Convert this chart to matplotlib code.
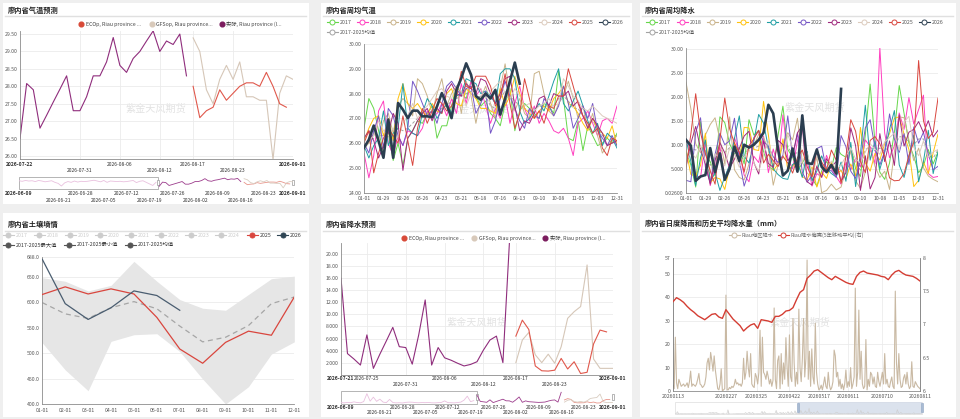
import matplotlib
matplotlib.use('Agg')
import matplotlib.pyplot as plt
from matplotlib.patches import Rectangle
from matplotlib.lines import Line2D
import numpy as np
import pandas as pd

plt.rcParams['font.family'] = ['Noto Sans CJK SC', 'DejaVu Sans']
plt.rcParams['axes.unicode_minus'] = False

# ---------------- 廖内省气温预测 (daily from 2026-07-22) ----------------
temp_actual = [26.5, 28.08, 27.9, 26.8, 27.17, 27.55, 27.92, 28.3, 27.3, 27.3,
               27.7, 28.3, 28.3, 28.7, 29.4, 28.6, 28.4, 28.8, 29.0, 29.3,
               29.59, 29.0, 29.3, 29.2, 29.5, 28.3]
temp_ec = [28.0, 27.1, 27.3, 27.4, 27.9, 27.6, 27.8, 28.0, 28.1, 28.1,
           28.0, 28.4, 28.0, 27.5, 27.4]
temp_gfs = [29.39, 29.0, 27.9, 27.5, 28.2, 28.6, 28.2, 28.7, 27.7, 27.7,
            27.6, 27.6, 25.9, 27.8, 28.3, 28.2]
# slider history 2026-06-09 .. 2026-07-21
temp_hist = [28.6, 28.4, 28.7, 28.5, 28.6, 28.3, 28.7, 28.5, 28.2, 28.4,
             28.6, 28.0, 27.6, 26.6, 27.8, 28.3, 28.0, 28.5, 28.1, 28.4,
             28.3, 28.4, 28.6, 28.8, 28.5, 28.2, 28.7, 28.0, 28.5, 28.4,
             28.3, 28.4, 28.2, 28.3, 28.5, 28.7, 27.9, 28.4, 28.6, 28.0,
             27.4, 26.8, 28.0]
temp_xlabels = ['2026-07-22', '2026-07-31', '2026-08-06', '2026-08-12',
                '2026-08-17', '2026-08-23', '2026-09-01']

# ---------------- 廖内省降水预测 (daily from 2026-07-21) ----------------
rain_actual = [16.0, 3.5, 2.6, 1.6, 6.6, 1.05, 3.4, 5.6, 7.85, 4.65,
               4.5, 1.75, 6.6, 12.4, 1.6, 4.5, 2.8, 2.4, 1.9, 1.45,
               1.7, 2.15, 4.1, 5.75, 6.4, 2.0, 21.8]
rain_ec = [6.4, 9.05, 7.5, 1.45, 0.65, 0.6, 0.75, 2.7, 0.95, 2.15,
           0.2, 0.4, 5.1, 7.4, 7.1]
rain_gfs = [2.0, 5.75, 7.0, 3.3, 2.0, 3.4, 1.9, 4.65, 9.35, 10.45,
            11.3, 18.2, 2.6, 1.05, 1.05, 1.05]
# slider history 2026-06-09 .. 2026-07-20
rain_hist = [1.0, 0.5, 1.5, 0.8, 2.5, 1.2, 0.6, 3.0, 19.0, 4.0,
             12.0, 3.5, 8.0, 2.0, 1.0, 7.5, 1.2, 0.5, 0.8, 0.3,
             1.5, 2.0, 1.8, 1.0, 0.7, 1.2, 0.9, 1.4, 0.6, 0.5,
             1.0, 1.3, 4.5, 1.0, 0.8, 0.5, 1.2, 2.0, 6.0, 14.0,
             3.0, 5.0]
rain_xlabels = ['2026-07-21', '2026-07-25', '2026-07-31', '2026-08-06',
                '2026-08-12', '2026-08-17', '2026-08-23', '2026-09-01']

slider_labels = ['2026-06-09', '2026-06-21', '2026-06-28', '2026-07-05',
                 '2026-07-12', '2026-07-19', '2026-07-26', '2026-08-02',
                 '2026-08-09', '2026-08-16', '2026-08-23', '2026-09-01']

# ---------------- 周均气温 (weekly) ----------------
week_labels = ['01-01', '01-29', '02-26', '03-26', '04-23', '05-21', '06-18',
               '07-16', '08-13', '09-10', '10-08', '11-05', '12-03', '12-31']
years = ['2017', '2018', '2019', '2020', '2021', '2022', '2023', '2024', '2025', '2026']

wt2017 = [26.6, 27.8, 27.4, 26.5, 25.6, 26.4, 25.3, 26.0, 25.1, 26.2,
          26.5, 26.9, 26.8, 27.2, 27.5, 26.2, 26.7, 26.7, 27.5, 28.3,
          28.0, 27.8, 28.5, 27.9, 27.5, 27.7, 27.2, 27.0, 26.7, 27.6,
          28.2, 26.5, 27.3, 27.6, 27.4, 27.2, 27.0, 27.6, 27.5, 27.2,
          28.9, 27.8, 26.2, 26.1, 26.9, 25.7, 26.7, 26.3, 25.9, 26.0, 26.2, 26.0, 26.4]
wt2018 = [25.6, 24.6, 25.5, 27.3, 27.7, 26.0, 25.5, 26.3, 25.9, 26.5,
          26.4, 26.3, 26.6, 27.3, 27.0, 27.2, 27.6, 27.1, 27.8, 27.2,
          28.4, 27.6, 28.5, 27.9, 28.2, 27.5, 26.8, 27.4, 27.0, 27.9,
          26.8, 27.6, 28.3, 27.4, 26.9, 27.5, 26.8, 27.2, 26.9, 26.5,
          26.4, 26.6, 26.2, 25.5, 26.8, 27.0, 27.3, 26.8, 26.3, 26.9, 27.0, 26.8, 27.5]
wt2019 = [25.8, 26.0, 26.4, 26.1, 26.9, 27.2, 26.4, 27.5, 27.8, 27.6,
          27.1, 28.6, 28.4, 27.9, 27.2, 28.0, 28.6, 27.5, 28.0, 28.3,
          27.2, 28.5, 27.9, 26.8, 27.8, 28.3, 27.6, 27.0, 28.2, 29.2,
          28.0, 27.3, 27.8, 27.2, 27.0, 28.8, 28.9, 28.0, 27.3, 27.1,
          27.6, 27.9, 28.5, 27.8, 27.0, 27.5, 26.6, 27.2, 26.3, 25.6, 25.9, 26.1, 26.3]
wt2020 = [26.1, 26.6, 27.0, 27.1, 26.3, 27.0, 26.1, 27.8, 28.4, 27.6,
          27.4, 27.6, 27.3, 27.1, 27.6, 27.3, 27.2, 28.0, 28.2, 27.6,
          27.5, 28.2, 28.0, 27.8, 27.4, 27.4, 27.3, 27.2, 28.2, 27.5,
          27.9, 28.7, 28.0, 27.4, 27.2, 27.0, 27.3, 27.5, 27.3, 27.8,
          28.0, 28.3, 27.6, 27.5, 27.2, 26.8, 26.5, 27.0, 26.6, 26.4, 26.2, 26.7, 25.9]
wt2021 = [25.9, 25.4, 25.9, 26.2, 27.3, 25.9, 26.4, 26.6, 28.4, 26.6,
          26.4, 26.3, 27.2, 27.8, 27.5, 27.0, 27.3, 27.6, 27.2, 27.9,
          28.0, 28.6, 28.5, 28.4, 28.0, 28.1, 27.9, 27.6, 28.8, 29.0,
          29.0, 28.6, 27.3, 26.8, 27.0, 27.3, 27.6, 27.3, 27.9, 28.5,
          29.0, 27.6, 27.3, 27.7, 28.1, 27.5, 26.9, 26.4, 26.8, 25.9, 26.4, 26.2, 25.8]
wt2022 = [26.0, 25.6, 26.5, 27.1, 25.8, 27.4, 27.1, 26.3, 25.9, 26.6,
          28.5, 28.1, 27.6, 27.1, 27.3, 26.8, 27.6, 28.3, 28.5, 28.2,
          27.9, 28.2, 28.3, 27.2, 27.6, 28.1, 26.4, 26.9, 27.8, 28.5,
          27.9, 27.4, 26.9, 26.6, 27.4, 27.1, 27.0, 27.8, 27.5, 27.1,
          27.5, 28.3, 27.6, 26.6, 27.0, 27.5, 27.0, 27.6, 26.5, 26.2, 25.9, 26.3, 25.9]
wt2023 = [26.2, 26.5, 26.1, 25.4, 25.9, 26.4, 27.2, 26.8, 24.9, 26.2,
          26.5, 26.9, 27.2, 27.4, 26.9, 27.4, 27.2, 28.1, 28.4, 28.0,
          27.9, 28.4, 28.2, 28.0, 28.6, 28.5, 28.0, 27.6, 28.0, 28.6,
          28.7, 27.5, 26.5, 26.9, 26.8, 27.2, 27.8, 27.9, 27.5, 28.0,
          27.9, 27.9, 28.1, 27.5, 27.7, 27.1, 26.6, 27.0, 26.7, 26.4, 25.9, 26.0, 26.1]
wt2024 = [25.7, 26.1, 26.3, 26.9, 26.5, 26.3, 26.6, 26.2, 26.8, 27.1,
          27.6, 27.0, 27.3, 27.5, 27.8, 28.1, 28.2, 27.9, 27.8, 28.3,
          28.1, 27.5, 28.0, 28.3, 28.2, 27.8, 28.1, 28.3, 28.5, 28.0,
          27.8, 28.2, 27.9, 27.5, 27.6, 27.3, 27.5, 27.6, 27.8, 27.5,
          27.6, 28.6, 28.3, 27.9, 27.7, 27.4, 27.3, 27.5, 27.3, 27.1, 27.0, 26.9, 26.8]
wt2025 = [26.0, 26.5, 24.8, 25.6, 26.2, 26.6, 26.3, 26.0, 27.1, 26.1,
          25.1, 26.6, 27.4, 26.8, 27.3, 27.8, 27.6, 27.3, 27.5, 27.9,
          28.9, 28.3, 28.2, 28.7, 28.7, 28.7, 28.3, 27.5, 27.8, 28.8,
          27.6, 26.6, 27.2, 28.6, 27.8, 27.0, 27.3, 26.8, 27.5, 27.4,
          27.9, 27.9, 29.0, 28.3, 27.6, 27.1, 26.8, 26.4, 26.6, 25.8, 25.5, 26.2, 26.1]
wt2026 = [25.81, 26.14, 26.71, 26.08, 25.41, 26.95, 25.41, 27.62, 27.35, 27.01,
          27.31, 27.31, 27.08, 27.08, 27.05, 27.48, 28.02, 27.55, 27.01, 28.15,
          28.62, 29.22, 28.76, 27.9, 27.75, 28.0, 27.8, 28.15, 27.15, 27.8,
          28.5, 29.25, 28.4]
wt_mean = [25.9, 26.1, 26.2, 26.3, 26.3, 26.5, 26.3, 26.6, 26.5, 26.6,
           26.8, 27.0, 27.1, 27.2, 27.3, 27.2, 27.4, 27.5, 27.7, 27.8,
           27.9, 28.0, 28.1, 27.8, 27.9, 27.9, 27.5, 27.4, 27.8, 28.1,
           27.9, 27.7, 27.5, 27.4, 27.3, 27.4, 27.5, 27.5, 27.5, 27.5,
           27.8, 27.9, 27.7, 27.4, 27.4, 27.1, 26.8, 26.9, 26.6, 26.3, 26.2, 26.3, 26.3]

# ---------------- 周均降水 (weekly) ----------------
wr2017 = [8.6, 5.8, 1.2, 14.8, 8.0, 6.5, 3.5, 15.8, 14.6, 10.2,
          8.0, 9.5, 6.0, 15.2, 12.0, 13.0, 8.6, 5.5, 4.8, 12.0,
          18.0, 9.0, 7.4, 4.5, 6.2, 8.0, 3.0, 1.4, 4.6, 6.5,
          5.0, 9.4, 8.0, 7.4, 9.6, 5.0, 3.4, 12.0, 22.6, 10.4,
          4.3, 2.8, 6.2, 12.6, 22.3, 16.5, 10.3, 7.6, 4.2, 5.6, 9.0, 6.0, 8.5]
wr2018 = [11.3, 8.5, 3.6, 3.2, 10.6, 1.5, 5.2, 9.6, 3.0, 5.8,
          11.5, 8.4, 3.7, 2.3, 7.6, 6.3, 11.8, 4.2, 9.1, 5.5,
          16.2, 7.3, 5.0, 10.8, 14.2, 6.7, 1.4, 4.0, 3.3, 7.8,
          5.1, 3.4, 1.8, 6.3, 4.8, 7.2, 5.4, 11.0, 9.6, 6.0,
          30.2, 12.4, 7.3, 9.8, 16.6, 13.2, 19.8, 14.3, 17.3, 20.3, 4.0, 3.2, 3.4]
wr2019 = [23.0, 17.5, 10.2, 8.3, 12.0, 14.2, 15.6, 11.0, 6.0, 15.8,
          4.8, 3.2, 2.7, 6.0, 9.8, 12.2, 11.5, 9.0, 1.6, 5.8,
          10.2, 12.5, 11.0, 15.5, 6.4, 4.1, 3.2, 7.5, 0.026, 0.5,
          1.8, 0.6, 1.2, 4.9, 8.8, 2.5, 0.9, 4.3, 9.0, 5.5,
          3.2, 4.5, 0.7, 8.5, 15.8, 15.6, 11.0, 6.7, 9.3, 5.2, 3.5, 2.8, 2.3]
wr2020 = [9.0, 3.8, 3.5, 5.7, 12.4, 2.1, 3.2, 2.9, 0.7, 5.4,
          10.5, 6.3, 13.6, 13.5, 9.0, 8.8, 19.0, 12.0, 4.6, 6.0,
          11.2, 4.8, 5.6, 6.6, 3.4, 2.7, 5.4, 1.2, 4.3, 3.0,
          6.3, 4.1, 4.6, 2.9, 6.0, 3.5, 13.6, 6.2, 4.5, 8.2,
          6.8, 10.3, 12.3, 15.5, 15.8, 12.2, 9.0, 1.3, 2.6, 6.4, 4.0, 8.3, 12.2]
wr2021 = [11.2, 6.5, 1.5, 7.3, 11.0, 2.3, 4.2, 0.5, 3.3, 5.8,
          11.3, 16.0, 7.6, 6.2, 10.7, 16.3, 14.5, 9.4, 5.0, 3.8,
          3.0, 2.8, 5.9, 6.4, 3.2, 8.6, 2.5, 4.5, 7.7, 5.0,
          4.0, 3.3, 6.4, 2.4, 10.5, 1.3, 8.2, 18.2, 6.8, 10.8,
          4.9, 8.4, 13.2, 17.1, 5.8, 3.2, 7.5, 12.0, 2.3, 6.5, 13.0, 4.0, 8.4]
wr2022 = [2.6, 2.3, 12.6, 15.6, 5.4, 2.1, 8.0, 12.4, 10.0, 10.8,
          15.5, 6.8, 1.4, 4.5, 11.5, 12.9, 10.7, 9.6, 7.5, 6.3,
          7.8, 16.0, 7.4, 12.4, 4.3, 2.2, 3.6, 9.2, 9.7, 4.6,
          4.6, 3.2, 11.9, 9.6, 4.5, 3.0, 6.8, 13.5, 15.2, 9.3,
          5.8, 8.6, 16.4, 11.2, 8.4, 12.3, 5.9, 13.7, 10.3, 12.6, 8.0, 4.8, 5.5]
wr2023 = [5.5, 10.3, 13.8, 9.2, 6.0, 1.8, 6.7, 10.4, 8.3, 5.1,
          7.0, 9.2, 11.8, 12.8, 6.3, 3.9, 10.8, 6.1, 5.3, 10.9,
          10.0, 6.7, 7.8, 12.5, 13.9, 2.3, 1.6, 5.5, 3.2, 7.1,
          5.4, 6.5, 2.4, 4.2, 13.5, 9.8, 0.5, 7.7, 0.8, 3.2,
          12.3, 6.5, 10.8, 5.7, 16.2, 9.7, 12.6, 13.2, 14.8, 12.5, 15.0, 11.6, 13.0]
wr2024 = [6.4, 8.5, 7.2, 9.8, 6.5, 4.4, 8.1, 7.2, 5.6, 9.3,
          8.0, 5.3, 7.4, 9.1, 6.2, 4.5, 7.9, 10.8, 6.4, 5.8,
          7.2, 12.1, 9.4, 5.3, 6.6, 8.3, 4.2, 7.5, 6.1, 5.0,
          6.6, 4.8, 5.8, 7.6, 9.4, 7.0, 6.2, 8.5, 10.2, 9.1,
          8.0, 10.6, 11.5, 12.4, 8.8, 14.7, 15.9, 9.5, 7.7, 10.8, 7.3, 8.5, 9.0]
wr2025 = [5.0, 12.2, 20.6, 12.5, 8.2, 4.5, 1.8, 11.0, 19.7, 13.3,
          10.3, 8.4, 4.3, 9.8, 11.2, 13.0, 6.2, 8.0, 6.7, 5.5,
          7.6, 6.2, 4.1, 7.3, 8.9, 5.4, 3.3, 9.0, 6.4, 4.8,
          8.9, 6.8, 2.0, 7.5, 15.2, 12.8, 6.5, 4.2, 10.9, 11.7,
          10.2, 7.6, 3.1, 2.5, 2.6, 4.0, 7.8, 10.5, 27.5, 15.0, 11.3, 12.6, 19.7]
wr2026 = [11.0, 9.8, 2.5, 3.4, 3.7, 9.3, 4.3, 8.2, 2.7, 5.0,
          9.6, 6.6, 10.0, 9.4, 10.0, 11.0, 12.5, 18.3, 16.5, 9.0,
          3.6, 4.6, 9.2, 4.4, 16.1, 6.2, 6.0, 9.0, 5.4, 4.3,
          5.8, 4.0, 21.6]
wr_mean = [10.2, 9.2, 8.9, 9.7, 8.8, 5.7, 6.9, 8.9, 8.4, 9.4,
           9.7, 8.7, 7.3, 9.8, 9.3, 9.7, 10.7, 9.0, 6.3, 6.6,
           10.0, 9.7, 7.8, 8.4, 8.7, 5.9, 4.3, 5.6, 5.7, 5.3,
           5.3, 5.3, 4.6, 5.6, 8.7, 6.3, 4.7, 9.0, 9.5, 8.7,
           9.3, 8.7, 9.7, 9.9, 11.6, 11.8, 10.6, 10.0, 11.2, 11.2, 8.4, 7.2, 8.9]

# ---------------- 土壤墒情 (monthly) ----------------
months = ['01-01', '02-01', '03-01', '04-01', '05-01', '06-01',
          '07-01', '08-01', '09-01', '10-01', '11-01', '12-01']
soil_2025 = [615, 630, 616, 626, 616, 570, 508, 480, 521, 543, 535, 610]
soil_2026 = [684, 597, 566, 589, 622, 613, 584]
soil_max = [648, 641, 622, 633, 680, 641, 605, 588, 584, 615, 646, 651]
soil_min = [520, 467, 426, 523, 536, 538, 503, 449, 400, 434, 498, 522]
soil_mean = [599, 577, 568, 589, 601, 587, 553, 522, 531, 554, 597, 610]

# ---------------- 日度降雨 (daily from 2026-01-13) ----------------
daily_rain = [2.5, 1.0, 23.0, 3.5, 1.0, 5.0, 3.5, 2.0, 2.5, 3.0,
              2.0, 2.5, 3.5, 1.5, 4.0, 8.5, 2.0, 3.0, 2.5, 2.0,
              3.0, 5.0, 7.5, 3.0, 2.5, 1.5, 2.0, 3.0, 6.0, 12.0,
              14.0, 9.0, 16.5, 13.0, 8.5, 15.0, 9.0, 5.0, 1.0, 0.5,
              3.0, 9.5, 0.0, 0.5, 1.0, 41.0, 0.5, 0.5, 1.5, 1.0,
              2.0, 1.5, 2.5, 5.0, 3.0, 3.5, 2.5, 3.0, 2.0, 3.5,
              14.0, 5.0, 8.0, 17.0, 10.0, 6.0, 16.0, 3.0, 2.0, 1.5,
              7.5, 6.0, 3.0, 8.0, 26.0, 2.0, 23.0, 8.0, 7.0, 5.0,
              8.5, 6.0, 3.0, 5.0, 2.0, 4.5, 35.5, 5.0, 1.0, 13.0,
              15.0, 1.0, 16.0, 3.0, 12.0, 5.0, 22.8, 10.0, 2.0, 24.0,
              6.0, 4.0, 31.0, 12.0, 2.0, 8.0, 3.0, 35.0, 10.0, 4.0,
              14.0, 31.0, 6.0, 14.0, 56.0, 5.0, 17.0, 2.0, 18.0, 6.0,
              3.0, 29.0, 8.0, 3.0, 0.5, 1.0, 2.5, 0.5, 3.0, 6.0,
              2.0, 1.0, 8.0, 2.5, 0.5, 1.5, 4.0, 17.5, 15.0, 6.0,
              8.0, 2.0, 5.0, 1.0, 3.0, 0.5, 3.0, 9.0, 1.5, 4.0,
              2.0, 10.0, 1.0, 3.0, 6.0, 44.0, 2.0, 8.0, 34.6, 5.0,
              17.0, 3.0, 1.0, 2.0, 22.0, 0.5, 5.0, 2.0, 8.0, 7.0,
              3.0, 6.0, 2.0, 1.5, 8.0, 4.0, 2.0, 5.0, 8.0, 3.0,
              16.0, 3.0, 5.0, 2.0, 1.5, 4.0, 6.0, 2.0, 1.0, 42.7,
              12.0, 3.0, 16.0, 5.0, 1.5, 2.0, 5.5, 7.0, 3.0, 8.0,
              3.0, 1.0, 2.0, 12.5, 2.0, 1.5, 4.0, 3.0, 2.0, 1.5, 1.0]
# 5-year moving average, every 3 days (right axis)
rain_avg5 = [7.34, 7.40, 7.37, 7.33, 7.27, 7.22, 7.18, 7.13, 7.10, 7.07,
             7.11, 7.15, 7.16, 7.11, 7.09, 7.22, 7.15, 7.08, 7.03, 6.98,
             6.90, 6.95, 6.99, 7.01, 6.94, 7.07, 7.06, 7.05, 7.03, 7.12,
             7.12, 7.15, 7.20, 7.21, 7.25, 7.37, 7.48, 7.52, 7.69, 7.74,
             7.80, 7.82, 7.78, 7.74, 7.70, 7.67, 7.72, 7.69, 7.66, 7.63,
             7.61, 7.60, 7.72, 7.78, 7.80, 7.77, 7.76, 7.75, 7.74, 7.72,
             7.71, 7.67, 7.74, 7.79, 7.81, 7.77, 7.74, 7.73, 7.72, 7.69, 7.65]
daily_labels = ['20260113', '20260227', '20260325', '20260422',
                '20260517', '20260611', '20260710', '20260811']

# ---------------- layout helpers ----------------
W, H = 960, 419
fig = plt.figure(figsize=(9.6, 4.19), dpi=100, facecolor='#efefef')

C_EC, C_GFS, C_ACT = '#e0584c', '#d6c7b8', '#8f2d7c'
year_colors = ['#66d64a', '#ff3fbf', '#c9b38a', '#ffc20e', '#1f9ea3',
               '#7657c6', '#a0287d', '#dccbbd', '#d9463e', '#2b3e50']
C_MEAN = '#a3a3a3'
WM = '紫金天风期货'


def box(x0, y0, x1, y1):
    return [x0 / W, 1 - y1 / H, (x1 - x0) / W, (y1 - y0) / H]


def card(x0, y0, x1, y1, title, ty, ly):
    fig.add_artist(Rectangle((x0 / W, 1 - y1 / H), (x1 - x0) / W, (y1 - y0) / H,
                             transform=fig.transFigure, fc='white', ec='none', zorder=-10))
    fig.text((x0 + 5) / W, 1 - ty / H, title, fontsize=5.2, fontweight='bold',
             color='#222', va='center', ha='left')
    fig.add_artist(Line2D([(x0 + 2) / W, (x1 - 3) / W], [1 - ly / H] * 2,
                          color='#e0e0e0', lw=1.0))


def legend_item(x, y, color, text, kind='dot', tcolor='#444'):
    X, Y = x / W, 1 - y / H
    if kind == 'dot':
        fig.add_artist(Line2D([X], [Y], marker='o', ms=3.4, mfc=color, mec=color, ls='none'))
        fig.text((x + 4.5) / W, Y, text, fontsize=3.8, color=tcolor, va='center')
    else:
        fig.add_artist(Line2D([(x - 5.5) / W, (x + 5.5) / W], [Y, Y], color=color, lw=0.8))
        fig.add_artist(Line2D([X], [Y], marker='o', ms=3.6, mew=0.7, mec=color,
                              mfc='white' if kind == 'open' else color, ls='none'))
        fig.text((x + 7.5) / W, Y, text, fontsize=3.8, color=tcolor, va='center')


def style(ax):
    ax.set_facecolor('none')
    for s in ['top', 'right']:
        ax.spines[s].set_visible(False)
    for s in ['left', 'bottom']:
        ax.spines[s].set_color('#8c8c8c')
        ax.spines[s].set_linewidth(0.6)
    ax.tick_params(length=0, labelsize=3.7, colors='#555', pad=1.8)
    ax.grid(axis='y', color='#ebebeb', lw=0.6)
    ax.set_axisbelow(True)


def date_label(ax, x, text, dy, bold=False):
    ax.annotate(text, xy=(x, 0), xycoords=('data', 'axes fraction'),
                xytext=(0, -dy * 0.72), textcoords='offset points',
                ha='center', va='center', fontsize=3.6, color='#333',
                fontweight='bold' if bold else 'normal', annotation_clip=False)


def watermark(ax, x, y):
    ax.text(x / W, 1 - y / H, WM, transform=fig.transFigure, fontsize=7.3,
            color='#e2e2e2', ha='center', va='center', zorder=0)


def slider(x0, y0, x1, y1, box_x1, parts, n_days, dy_up, dy_low):
    ax = fig.add_axes(box(x0, y0, x1, y1))
    for xs, ys, c in parts:
        ax.plot(xs, ys, color=c, lw=0.6)
    allv = np.concatenate([np.asarray(p[1], float) for p in parts])
    pad = (allv.max() - allv.min()) * 0.12
    ax.set_ylim(allv.min() - pad, allv.max() + pad)
    ax.set_xlim(0, n_days)
    ax.axis('off')
    frac = (box_x1 - x0) / (x1 - x0)
    ax.add_patch(Rectangle((0, 0), frac, 1, transform=ax.transAxes, fill=False,
                           ec='#a8a8a8', lw=0.6, clip_on=False))
    for hx in (frac, 1.0):
        ax.add_patch(Rectangle((hx - 0.005, 0.3), 0.01, 0.45, transform=ax.transAxes,
                               fc='white', ec='#999', lw=0.5, clip_on=False))
    base = pd.Timestamp(slider_labels[0])
    for i, lab in enumerate(slider_labels):
        d = (pd.Timestamp(lab) - base).days
        bold = i in (0, len(slider_labels) - 1)
        date_label(ax, d, lab, dy_up if (i % 2 == 0 or bold) else dy_low, bold)


# ---------------- cards ----------------
card(3, 3, 309, 204, '廖内省气温预测', 10, 16.5)
card(321, 3, 632, 204, '廖内省周均气温', 10, 16.5)
card(640, 3, 956, 204, '廖内省周均降水', 10, 16.5)
card(3, 213, 309, 417, '廖内省土壤墒情', 224, 230.5)
card(321, 213, 632, 417, '廖内省降水预测', 224, 230.5)
card(640, 213, 956, 417, '廖内省日度降雨和历史平均降水量（mm）', 223, 230.5)

# ---------------- panel 1: 气温预测 ----------------
ax1 = fig.add_axes(box(20, 30.9, 293, 159.5))
style(ax1)
n_act = len(temp_actual)
x_act = np.arange(n_act)
x_ec = np.arange(len(temp_ec)) + n_act
x_gfs = np.arange(len(temp_gfs)) + n_act
watermark(ax1, 156, 109)
ax1.plot(x_gfs, temp_gfs, color=C_GFS, lw=0.8)
ax1.plot(x_ec, temp_ec, color=C_EC, lw=0.8)
ax1.plot(x_act, temp_actual, color=C_ACT, lw=0.8)
lo = min(temp_actual + temp_ec + temp_gfs)
hi = max(temp_actual + temp_ec + temp_gfs)
ax1.set_ylim(lo, hi)
ax1.set_xlim(0, 41)
yt = np.arange(26.0, 29.51, 0.5)
ax1.set_yticks(yt)
ax1.set_yticklabels([f'{v:.2f}' for v in yt])
ax1.set_xticks([])
base1 = pd.Timestamp(temp_xlabels[0])
for i, lab in enumerate(temp_xlabels):
    d = (pd.Timestamp(lab) - base1).days
    bold = i in (0, len(temp_xlabels) - 1)
    if not bold:
        ax1.axvline(d, color='#ebebeb', lw=0.6, zorder=0)
    date_label(ax1, d, lab, 4.5 if i % 2 == 0 else 10.5, bold)
legend_item(81, 24, '#d84a38', 'ECOp, Riau province ...')
legend_item(151.7, 24, '#d8c9ba', 'GFSop, Riau province...')
legend_item(222, 24, '#7b1c5e', '实际, Riau province (I...')
n_hist = len(temp_hist)
slider(19, 177, 293, 189, 158,
       [(np.arange(n_hist), temp_hist, '#e9c0de'),
        (x_act + n_hist, temp_actual, '#9c3c8c'),
        (x_ec + n_hist, temp_ec, '#e8958a'),
        (x_gfs + n_hist, temp_gfs, '#d9cdc1')],
       84, 4.3, 11)

# ---------------- panels 2 & 3: weekly ----------------
def weekly(rect, series, mean, ylim, yticks, ylabels, wm, leg_x0):
    ax = fig.add_axes(box(*rect))
    style(ax)
    watermark(ax, *wm)
    ax.plot(np.arange(len(mean)), mean, color=C_MEAN, lw=0.7, ls=(0, (3, 2)))
    for vals, c, yr in series:
        lw = 1.9 if yr == '2026' else 0.7
        ax.plot(np.arange(len(vals)), vals, color=c, lw=lw, zorder=3 if yr == '2026' else 2)
    ax.set_xlim(0, 52)
    ax.set_ylim(*ylim)
    ax.set_yticks(yticks)
    ax.set_yticklabels(ylabels)
    ax.set_xticks(np.arange(0, 53, 4))
    ax.set_xticklabels(week_labels)
    ax.tick_params(axis='x', pad=2.6)
    for i, (vals, c, yr) in enumerate(series):
        legend_item(leg_x0 + 30.3 * i, 22.3, c, yr, kind='open', tcolor='#555')
    legend_item(leg_x0, 32.3, C_MEAN, '2017-2025均值', kind='open', tcolor='#555')
    return ax


temp_series = list(zip([wt2017, wt2018, wt2019, wt2020, wt2021, wt2022, wt2023,
                        wt2024, wt2025, wt2026], year_colors, years))
weekly((364, 44, 617, 192.7), temp_series, wt_mean, (24, 30),
       np.arange(24, 31, 1), [f'{v:.2f}' for v in range(24, 31)], (480, 110), 332)

rain_series = list(zip([wr2017, wr2018, wr2019, wr2020, wr2021, wr2022, wr2023,
                        wr2024, wr2025, wr2026], year_colors, years))
all_w = [v for s in rain_series for v in s[0]]
r_lo, r_hi = min(all_w), max(all_w)
r_ticks = [r_lo, 5, 10, 15, 20, 25, 30]
r_labels = ['0.02600', '5.000', '10.00', '15.00', '20.00', '25.00', '30.00']
weekly((686, 48.5 - (r_hi - 30) * 4.81, 938, 192.7), rain_series, wr_mean, (r_lo, r_hi),
       r_ticks, r_labels, (815, 108), 651.7)

# ---------------- panel 4: 土壤墒情 ----------------
ax4 = fig.add_axes(box(42.3, 257.3, 294.3, 404))
style(ax4)
watermark(ax4, 157, 323)
xm = np.arange(len(months))
ax4.fill_between(xm, soil_min, soil_max, color='#e6e6e6', lw=0, zorder=1)
ax4.plot(xm, soil_mean, color='#a6a6a6', lw=0.9, ls=(0, (4, 3)), zorder=2)
ax4.plot(xm, soil_2025, color='#d9463e', lw=0.9, zorder=3)
ax4.plot(np.arange(len(soil_2026)), soil_2026, color='#4a5d70', lw=0.9, zorder=4)
ax4.set_xlim(0, 11)
ax4.set_ylim(400, 688)
s_ticks = [400, 450, 500, 550, 600, 650, 688]
ax4.set_yticks(s_ticks)
ax4.set_yticklabels([f'{v:.1f}' for v in s_ticks])
ax4.set_xticks(xm)
ax4.set_xticklabels(months)
ax4.tick_params(axis='x', pad=3)
leg4_x = [8.3, 39.3, 70, 100, 130.7, 160.7, 190.7, 220.7, 252.3, 282.7]
for i, yr in enumerate(years):
    if yr == '2025':
        legend_item(leg4_x[i], 235.3, '#d9463e', yr, kind='filled', tcolor='#333')
    elif yr == '2026':
        legend_item(leg4_x[i], 235.3, '#2f4554', yr, kind='filled', tcolor='#333')
    else:
        legend_item(leg4_x[i], 235.3, '#cccccc', yr, kind='filled', tcolor='#cccccc')
for x, t in zip([8.3, 69, 130], ['2017-2025最大值', '2017-2025最小值', '2017-2025均值']):
    legend_item(x, 244.7, '#555555', t, kind='filled', tcolor='#333')

# ---------------- panel 5: 降水预测 ----------------
r_max = max(rain_actual + rain_ec + rain_gfs)
ax5 = fig.add_axes(box(341, 374.7 - r_max * 6.03, 613, 374.7))
style(ax5)
watermark(ax5, 477, 323)
n_ra = len(rain_actual)
x_ra = np.arange(n_ra)
x_rec = np.arange(len(rain_ec)) + n_ra
x_rgfs = np.arange(len(rain_gfs)) + n_ra
ax5.plot(x_rgfs, rain_gfs, color=C_GFS, lw=0.8)
ax5.plot(x_rec, rain_ec, color=C_EC, lw=0.8)
ax5.plot(x_ra, rain_actual, color=C_ACT, lw=0.8)
ax5.set_ylim(0, r_max)
ax5.set_xlim(0, 42)
yt5 = np.arange(2, 21, 2)
ax5.set_yticks(yt5)
ax5.set_yticklabels([f'{v:.3f}' if v < 10 else f'{v:.2f}' for v in yt5])
ax5.set_xticks([])
rows5 = [0, 0, 1, 0, 1, 0, 1, 0]
base5 = pd.Timestamp(rain_xlabels[0])
for i, lab in enumerate(rain_xlabels):
    d = (pd.Timestamp(lab) - base5).days
    bold = i in (0, len(rain_xlabels) - 1)
    if not bold:
        ax5.axvline(d, color='#ebebeb', lw=0.6, zorder=0)
    date_label(ax5, d, lab, 9.5 if rows5[i] else 4.0, bold)
legend_item(404.3, 238.3, '#d84a38', 'ECOp, Riau province ...')
legend_item(474.3, 238.3, '#d8c9ba', 'GFSop, Riau province...')
legend_item(545, 238.3, '#7b1c5e', '实际, Riau province (I...')
n_rh = len(rain_hist)
slider(341, 391, 613, 404.3, 477,
       [(np.arange(n_rh), rain_hist, '#e9c0de'),
        (x_ra + n_rh, rain_actual, '#9c3c8c'),
        (x_rec + n_rh, rain_ec, '#e8958a'),
        (x_rgfs + n_rh, rain_gfs, '#d9cdc1')],
       84, 3.5, 8)

# ---------------- panel 6: 日度降雨 ----------------
dates = pd.date_range('2026-01-13', periods=len(daily_rain), freq='D')
avg_dates = pd.date_range('2026-01-13', periods=len(rain_avg5), freq='3D')
ax6 = fig.add_axes(box(673, 257.7, 920, 391))
style(ax6)
ax6.spines['left'].set_color('#777')
watermark(ax6, 800, 323)
ax6.plot(dates, daily_rain, color='#c9b9a3', lw=0.8)
ax6.set_ylim(0, 57)
ax6.set_xlim(dates[0], dates[-1])
ax6.set_yticks([0, 10, 20, 30, 40, 50, 57])
ax6.set_yticklabels(['0', '10', '20', '30', '40', '50', '57'])
tick_dates = pd.to_datetime(daily_labels, format='%Y%m%d')
ax6.set_xticks(tick_dates)
ax6.set_xticklabels(daily_labels)
ax6.tick_params(axis='x', pad=2.2)
for d in tick_dates[1:-1]:
    ax6.axvline(d, color='#ececec', lw=0.6, zorder=0)
ax6r = ax6.twinx()
ax6r.set_facecolor('none')
for s in ['top', 'left', 'bottom']:
    ax6r.spines[s].set_visible(False)
ax6r.spines['right'].set_color('#777')
ax6r.spines['right'].set_linewidth(0.6)
ax6r.plot(avg_dates, rain_avg5, color='#d43d33', lw=1.0)
ax6r.set_ylim(6, 8)
ax6r.set_yticks([6, 6.5, 7, 7.5, 8])
ax6r.set_yticklabels(['6', '6.5', '7', '7.5', '8'])
ax6r.tick_params(length=0, labelsize=3.7, colors='#555', pad=1.8)
legend_item(734, 235.3, '#c9b9a3', 'Riau地区降水', kind='open', tcolor='#666')
legend_item(783.3, 235.3, '#d43d33', 'Riau降水偏离(5年移动平均)(右)', kind='open', tcolor='#666')

# slider for panel 6
axs6 = fig.add_axes(box(675, 401.5, 922, 414))
axs6.fill_between(np.arange(len(daily_rain)), 0, daily_rain, color='#e3e3e3', lw=0)
axs6.plot(np.arange(len(daily_rain)), daily_rain, color='#cfcfcf', lw=0.4)
axs6.set_xlim(0, len(daily_rain) - 1)
axs6.set_ylim(0, 120)
axs6.axis('off')
axs6.add_patch(Rectangle((0, 0), 1, 1, transform=axs6.transAxes, fill=False,
                         ec='#dddddd', lw=0.5, clip_on=False))
sel0 = (798 - 675) / (922 - 675)
axs6.add_patch(Rectangle((sel0, 0), 1 - sel0, 1, transform=axs6.transAxes,
                         fc='#d3dbe9', ec='none', alpha=0.8, clip_on=False))
for hx in (sel0, 1.0):
    axs6.add_patch(Rectangle((hx - 0.006, 0.15), 0.012, 0.7, transform=axs6.transAxes,
                             fc='#a9bbd3', ec='#8fa5c4', lw=0.4, clip_on=False))

fig.savefig('out.png', dpi=100, facecolor=fig.get_facecolor())
